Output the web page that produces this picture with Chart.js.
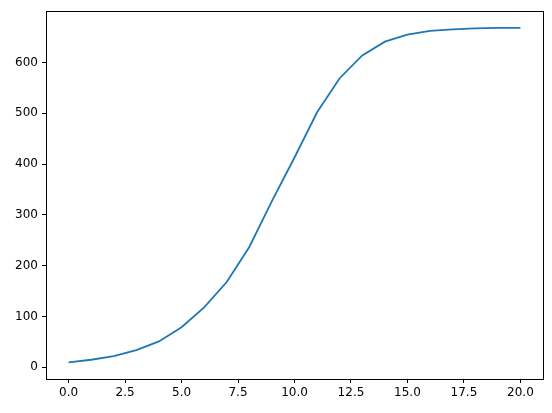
<!DOCTYPE html>
<html>
<head>
<meta charset="utf-8">
<script src="https://cdn.jsdelivr.net/npm/chart.js@4.4.0/dist/chart.umd.min.js"></script>
<style>
html,body{margin:0;padding:0;background:#fff;}
#wrap{width:552px;height:413px;}
</style>
</head>
<body>
<div id="wrap"><canvas id="c" width="552" height="413"></canvas></div>
<script>
const xValues = [0,1,2,3,4,5,6,7,8,9,10,11,12,13,14,15,16,17,18,19,20];
const yValues = [10,15,22,34,51,79,118,168,237,327,413,502,569,614,641,655,662,665,667,668,668];
const xTicks = [0,2.5,5,7.5,10,12.5,15,17.5,20];
const yTicks = [0,100,200,300,400,500,600];

const frame = {
  id:'frame',
  afterDraw(chart){
    const a = chart.chartArea, ctx = chart.ctx;
    ctx.save();
    ctx.strokeStyle = '#000';
    ctx.lineWidth = 1;
    ctx.strokeRect(Math.round(a.left)+0.5, Math.round(a.top)+0.5, Math.round(a.right-a.left), Math.round(a.bottom-a.top));
    ctx.restore();
  }
};

new Chart(document.getElementById('c'), {
  type:'line',
  data:{
    datasets:[{
      data: xValues.map((x,i)=>({x:x,y:yValues[i]})),
      borderColor:'#1f77b4',
      borderWidth:1.8,
      pointRadius:0,
      tension:0,
      fill:false
    }]
  },
  options:{
    responsive:false,
    animation:false,
    devicePixelRatio:1,
    layout:{padding:{top:10,right:9,left:0,bottom:0}},
    plugins:{legend:{display:false},tooltip:{enabled:false}},
    scales:{
      x:{
        type:'linear',
        min:-1, max:21,
        afterBuildTicks(s){ s.ticks = xTicks.map(v=>({value:v})); },
        afterFit(s){ s.height = 34; },
        grid:{drawOnChartArea:false, drawTicks:true, tickLength:4, color:'#000', tickWidth:1},
        border:{display:true,color:'#000',width:1},
        ticks:{color:'#000',font:{family:'DejaVu Sans',size:12},padding:3,maxRotation:0,autoSkip:false,
          callback:(v)=>Number(v).toFixed(1)}
      },
      y:{
        type:'linear',
        min:-22.9, max:700.9,
        afterBuildTicks(s){ s.ticks = yTicks.map(v=>({value:v})); },
        afterFit(s){ s.width = 46; },
        grid:{drawOnChartArea:false, drawTicks:true, tickLength:4, color:'#000', tickWidth:1},
        border:{display:true,color:'#000',width:1},
        ticks:{color:'#000',font:{family:'DejaVu Sans',size:12},padding:4,autoSkip:false,
          callback:(v)=>String(Math.round(v))}
      }
    }
  },
  plugins:[frame]
});
</script>
</body>
</html>
